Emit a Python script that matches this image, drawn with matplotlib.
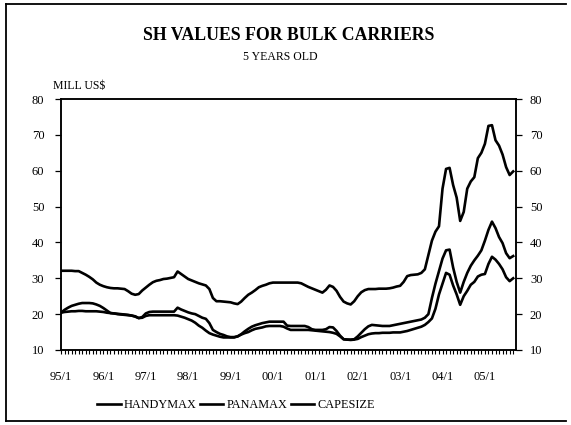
import matplotlib
matplotlib.use("Agg")
import matplotlib.pyplot as plt
from matplotlib.lines import Line2D

plt.rcParams['font.family'] = ['Liberation Serif', 'DejaVu Serif']

# Monthly values, Jan 1995 .. Sep 2005 (million US$)
capesize = [
    32.1, 32.1, 32.1, 32.1, 32.0, 32.0, 31.5, 31.0, 30.4, 29.7, 28.8, 28.2,   # 1995
    27.8, 27.5, 27.3, 27.2, 27.2, 27.1, 27.0, 26.4, 25.7, 25.4, 25.6, 26.6,   # 1996
    27.4, 28.2, 28.9, 29.3, 29.5, 29.8, 29.9, 30.1, 30.3, 31.9, 31.2, 30.5,   # 1997
    29.8, 29.4, 29.0, 28.6, 28.3, 28.0, 27.0, 24.5, 23.6, 23.6, 23.5, 23.4,   # 1998
    23.3, 23.0, 22.8, 23.5, 24.5, 25.4, 26.0, 26.7, 27.5, 27.9, 28.2, 28.6,   # 1999
    28.8, 28.8, 28.8, 28.8, 28.8, 28.8, 28.8, 28.8, 28.6, 28.1, 27.6, 27.2,   # 2000
    26.8, 26.4, 26.0, 26.8, 28.0, 27.6, 26.5, 24.8, 23.5, 23.0, 22.7, 23.6,   # 2001
    25.0, 26.1, 26.7, 27.0, 27.0, 27.0, 27.1, 27.1, 27.1, 27.2, 27.4, 27.7,   # 2002
    27.9, 29.0, 30.6, 30.9, 31.0, 31.1, 31.5, 32.5, 36.5, 40.5, 43.0, 44.5,   # 2003
    55.0, 60.5, 60.8, 56.0, 52.5, 46.0, 48.5, 55.0, 57.0, 58.2, 63.5, 65.0,   # 2004
    67.5, 72.5, 72.7, 68.5, 67.0, 64.5, 61.0, 58.8, 59.8,                     # 2005
]
panamax = [
    20.4, 21.2, 21.8, 22.3, 22.6, 22.9, 23.1, 23.1, 23.1, 23.0, 22.7, 22.3,
    21.7, 21.0, 20.3, 20.2, 20.1, 20.0, 19.9, 19.8, 19.6, 19.3, 18.9, 19.2,
    20.2, 20.6, 20.7, 20.7, 20.7, 20.7, 20.7, 20.7, 20.7, 21.8, 21.3, 20.9,
    20.5, 20.2, 20.0, 19.5, 19.0, 18.7, 17.5, 15.6, 15.0, 14.5, 14.2, 13.8,
    13.6, 13.6, 13.8, 14.4, 15.2, 15.9, 16.5, 16.9, 17.2, 17.5, 17.7, 17.9,
    17.9, 17.9, 17.9, 17.9, 16.8, 16.7, 16.7, 16.7, 16.7, 16.7, 16.4, 15.8,
    15.6, 15.6, 15.6, 15.8, 16.4, 16.3, 15.3, 14.0, 13.0, 12.9, 12.9, 13.0,
    13.8, 14.8, 15.8, 16.6, 17.0, 16.9, 16.8, 16.7, 16.7, 16.7, 16.9, 17.1,
    17.3, 17.5, 17.7, 17.9, 18.1, 18.3, 18.5, 19.0, 20.0, 24.5, 28.5, 32.0,
    35.5, 37.8, 38.0, 33.0, 29.0, 26.0, 29.0, 31.5, 33.5, 35.0, 36.3, 37.8,
    40.5, 43.5, 45.8, 44.0, 41.5, 39.8, 37.0, 35.6, 36.2,
]
handymax = [
    20.4, 20.6, 20.7, 20.8, 20.8, 20.9, 20.9, 20.8, 20.8, 20.8, 20.8, 20.7,
    20.6, 20.4, 20.3, 20.2, 20.0, 19.9, 19.8, 19.7, 19.6, 19.4, 18.9, 19.0,
    19.5, 19.7, 19.7, 19.7, 19.7, 19.7, 19.7, 19.7, 19.7, 19.6, 19.3, 19.0,
    18.6, 18.2, 17.6, 16.8, 16.2, 15.4, 14.7, 14.3, 14.0, 13.7, 13.5, 13.5,
    13.5, 13.5, 13.8, 14.3, 14.7, 15.0, 15.5, 15.9, 16.1, 16.3, 16.6, 16.7,
    16.7, 16.7, 16.7, 16.5, 16.0, 15.6, 15.6, 15.6, 15.6, 15.6, 15.6, 15.5,
    15.4, 15.3, 15.2, 15.1, 15.0, 14.8, 14.5, 13.8, 13.0, 12.9, 12.8, 12.9,
    13.1, 13.6, 14.0, 14.4, 14.6, 14.7, 14.7, 14.8, 14.8, 14.8, 14.9, 14.9,
    14.9, 15.1, 15.3, 15.6, 15.9, 16.2, 16.5, 17.0, 17.8, 18.8, 21.5, 25.5,
    28.5, 31.5, 31.0, 28.0, 25.5, 22.6, 25.0, 26.5, 28.2, 29.0, 30.5, 31.0,
    31.2, 34.0, 36.0, 35.2, 34.0, 32.5, 30.3, 29.2, 30.0,
]
year_labels = ["95/1", "96/1", "97/1", "98/1", "99/1", "00/1",
               "01/1", "02/1", "03/1", "04/1", "05/1"]
y_ticks = [10, 20, 30, 40, 50, 60, 70, 80]

W, H = 571, 425
fig = plt.figure(figsize=(W / 100, H / 100), dpi=100)
fig.patch.set_facecolor("white")

ax_l, ax_r, ax_t, ax_b = 61, 516, 99, 350
ax = fig.add_axes([ax_l / W, 1 - ax_b / H, (ax_r - ax_l) / W, (ax_b - ax_t) / H])

months = list(range(len(capesize)))
lw = 1.9
ax.plot(months, handymax, color="black", lw=lw, label="HANDYMAX")
ax.plot(months, panamax, color="black", lw=lw, label="PANAMAX")
ax.plot(months, capesize, color="black", lw=lw, label="CAPESIZE")

n = len(capesize)
ax.set_xlim(0, n - 1 + 0.8)
ax.set_ylim(10, 80)
ax.set_yticks(y_ticks)
ax.set_yticklabels([str(v) for v in y_ticks])
ax.set_xticks(list(range(0, n, 12)))
ax.set_xticklabels(year_labels)
ax.set_xticks(list(range(0, n)), minor=True)

for s in ax.spines.values():
    s.set_linewidth(1.1)
    s.set_color("black")

ax.tick_params(axis="y", direction="out", length=4, width=0.9, pad=8,
               labelsize=9, colors="black")
ax.tick_params(axis="x", which="both", direction="out", length=3, width=0.8,
               pad=12, labelsize=9, colors="black")

ax2 = ax.twinx()
ax2.set_ylim(10, 80)
ax2.set_yticks(y_ticks)
ax2.set_yticklabels([str(v) for v in y_ticks])
ax2.tick_params(axis="y", direction="out", length=4, width=0.9, pad=6,
                labelsize=9, colors="black")
for s in ax2.spines.values():
    s.set_linewidth(1.1)

fig.text(289 / W, 1 - 35 / H, "SH VALUES FOR BULK CARRIERS", ha="center",
         va="center", fontsize=12.8, fontweight="bold")
fig.text(280 / W, 1 - 57 / H, "5 YEARS OLD", ha="center", va="center",
         fontsize=8.5)
fig.text(53 / W, 1 - 86 / H, r"MILL US\$", ha="left", va="center",
         fontsize=8.5)

handles = [Line2D([], [], color="black", lw=lw) for _ in range(3)]
fig.legend(handles, ["HANDYMAX", "PANAMAX", "CAPESIZE"], loc="center",
           bbox_to_anchor=(236 / W, 1 - 405 / H), ncol=3, frameon=False,
           fontsize=8.8, handlelength=1.9, handletextpad=0.25,
           columnspacing=0.3)

# outer frame (top, left, bottom)
frame_kw = dict(color="black", lw=1.3, transform=fig.transFigure)
fig.add_artist(Line2D([6 / W, 566 / W], [1 - 4 / H, 1 - 4 / H], **frame_kw))
fig.add_artist(Line2D([6 / W, 6 / W], [1 - 4 / H, 1 - 421 / H], **frame_kw))
fig.add_artist(Line2D([6 / W, 566 / W], [1 - 421 / H, 1 - 421 / H], **frame_kw))

fig.savefig("out.png", dpi=100, facecolor="white")
